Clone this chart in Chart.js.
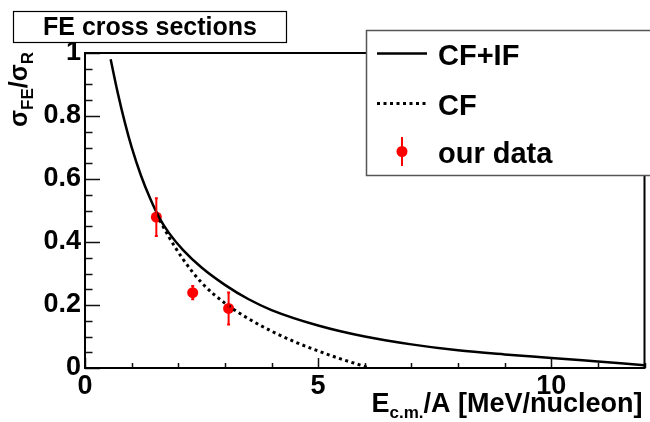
<!DOCTYPE html>
<html>
<head>
<meta charset="utf-8">
<script src="https://cdn.jsdelivr.net/npm/chart.js@4"></script>
<style>
  html, body { margin: 0; padding: 0; background: #fff; }
</style>
</head>
<body>
<canvas id="chart1" width="650" height="422"></canvas>
<script>
// values
var cfifX = [0.55, 0.7, 0.85, 1.0, 1.2, 1.4, 1.6, 1.8, 2.1, 2.5, 3.0, 3.5, 4.0, 5.0, 6.0, 7.0, 8.0, 9.0, 10, 11, 12];
var cfifY = [0.98, 0.875, 0.782, 0.701, 0.611, 0.537, 0.475, 0.429, 0.375, 0.319, 0.264, 0.219, 0.184, 0.135, 0.100, 0.075, 0.056, 0.043, 0.032, 0.0205, 0.009];
var cfX = [1.6, 1.8, 2.1, 2.5, 3.0, 3.5, 4.0, 4.5, 5.0, 5.5, 6.0, 6.1];
var cfY = [0.47, 0.416, 0.346, 0.271, 0.206, 0.157, 0.117, 0.083, 0.054, 0.028, 0.005, 0.0];
var dataX = [1.53, 2.31, 3.08];
var dataY = [0.479, 0.239, 0.189];
var dataErr = [0.06, 0.021, 0.051];
var xTicks = [0, 5, 10];
var yTicks = [0, 0.2, 0.4, 0.6, 0.8, 1];
var seriesLabels = ["CF+IF", "CF", "our data"];
var chartTitle = "FE cross sections";

var FONT = "'Liberation Sans', Arial, Helvetica, sans-serif";

function pts(xs, ys) {
  return xs.map(function (x, i) {
    return { x: x, y: ys[i] };
  });
}

// draw text with subscripts, parts = [[text, isSub], ...]
function richWidth(ctx, parts, size, subSize) {
  var w = 0;
  parts.forEach(function (p) {
    ctx.font = "bold " + (p[1] ? subSize : size) + "px " + FONT;
    w += ctx.measureText(p[0]).width;
  });
  return w;
}
function drawRich(ctx, parts, x, y, size, subSize, drop) {
  parts.forEach(function (p) {
    ctx.font = "bold " + (p[1] ? subSize : size) + "px " + FONT;
    ctx.fillText(p[0], x, p[1] ? y + drop : y);
    x += ctx.measureText(p[0]).width;
  });
}

var framePlugin = {
  id: "frame",
  afterDraw: function (chart) {
    var ctx = chart.ctx;
    var a = chart.chartArea;
    var xs = chart.scales.x;
    var ys = chart.scales.y;
    ctx.save();
    // inner ticks, ROOT style
    ctx.strokeStyle = "#111";
    ctx.lineWidth = 1.5;
    ctx.beginPath();
    for (var v = 0; v <= 1.0001; v += 0.05) {
      var py = Math.round(ys.getPixelForValue(v)) + 0.5;
      var major = Math.abs(v * 5 - Math.round(v * 5)) < 1e-6;
      ctx.moveTo(a.left, py);
      ctx.lineTo(a.left + (major ? 15 : 7.5), py);
    }
    for (var u = 0; u <= 12; u += 1) {
      var px = Math.round(xs.getPixelForValue(u)) + 0.5;
      ctx.moveTo(px, a.bottom);
      ctx.lineTo(px, a.bottom - (u % 5 === 0 ? 10 : 5));
    }
    ctx.stroke();
    // frame
    ctx.strokeStyle = "#000";
    ctx.lineWidth = 2;
    ctx.strokeRect(a.left, a.top, a.right - a.left, a.bottom - a.top);

    // error bars
    ctx.strokeStyle = "#ff0000";
    ctx.lineWidth = 2;
    ctx.beginPath();
    dataX.forEach(function (x, i) {
      var px = xs.getPixelForValue(x);
      var top = ys.getPixelForValue(dataY[i] + dataErr[i]);
      var bot = ys.getPixelForValue(dataY[i] - dataErr[i]);
      ctx.moveTo(px, top);
      ctx.lineTo(px, bot);
      ctx.moveTo(px - 1.5, top);
      ctx.lineTo(px + 1.5, top);
      ctx.moveTo(px - 1.5, bot);
      ctx.lineTo(px + 1.5, bot);
    });
    ctx.stroke();

    // axis titles
    ctx.fillStyle = "#000";
    ctx.textBaseline = "alphabetic";
    ctx.textAlign = "left";
    var xt = [["E", false], ["c.m.", true], ["/A [MeV/nucleon]", false]];
    var w = richWidth(ctx, xt, 27, 17);
    drawRich(ctx, xt, a.right - 2 - w, 412, 27, 17, 6);

    var yt = [["\u03c3", false], ["FE", true], ["/\u03c3", false], ["R", true]];
    ctx.save();
    ctx.translate(27, 127);
    ctx.rotate(-Math.PI / 2);
    drawRich(ctx, yt, 0, 0, 25, 17, 6);
    ctx.restore();

    // title box
    ctx.fillStyle = "#fff";
    ctx.fillRect(13, 11, 273, 31);
    ctx.strokeStyle = "#000";
    ctx.lineWidth = 1.2;
    ctx.strokeRect(13.5, 11.5, 273, 31);
    ctx.fillStyle = "#000";
    ctx.font = "bold 25px " + FONT;
    ctx.textAlign = "center";
    ctx.fillText(chartTitle, 150, 35);

    // legend box
    ctx.fillStyle = "#fff";
    ctx.fillRect(366, 30, 300, 145);
    ctx.strokeStyle = "#555";
    ctx.lineWidth = 1.5;
    ctx.strokeRect(366.5, 30.5, 300, 145);
    var ds = chart.data.datasets;
    var rowY = [53.5, 103.5, 151.5];
    ctx.textAlign = "left";
    ctx.font = "bold 29px " + FONT;
    ds.forEach(function (d, i) {
      if (d.showLine) {
        ctx.strokeStyle = d.borderColor;
        ctx.lineWidth = d.borderWidth;
        ctx.setLineDash(d.borderDash || []);
        ctx.beginPath();
        ctx.moveTo(377, rowY[i]);
        ctx.lineTo(427, rowY[i]);
        ctx.stroke();
        ctx.setLineDash([]);
      } else {
        ctx.strokeStyle = d.borderColor;
        ctx.lineWidth = 2;
        ctx.beginPath();
        ctx.moveTo(402, rowY[i] - 14.5);
        ctx.lineTo(402, rowY[i] + 14.5);
        ctx.stroke();
        ctx.fillStyle = d.backgroundColor;
        ctx.beginPath();
        ctx.arc(402, rowY[i], d.pointRadius, 0, Math.PI * 2);
        ctx.fill();
      }
      ctx.fillStyle = "#000";
      ctx.fillText(d.label, 438, rowY[i] + 11);
    });
    ctx.restore();
  },
};

var tickFont = { family: FONT, size: 27, weight: "bold" };

new Chart(document.getElementById("chart1"), {
  type: "scatter",
  data: {
    datasets: [
      {
        label: seriesLabels[0],
        data: pts(cfifX, cfifY),
        showLine: true,
        borderColor: "#000",
        borderWidth: 2.5,
        pointRadius: 0,
        cubicInterpolationMode: "monotone",
        fill: false,
      },
      {
        label: seriesLabels[1],
        data: pts(cfX, cfY),
        showLine: true,
        borderColor: "#000",
        borderWidth: 3,
        borderDash: [3, 3.5],
        pointRadius: 0,
        cubicInterpolationMode: "monotone",
        fill: false,
      },
      {
        label: seriesLabels[2],
        data: pts(dataX, dataY),
        showLine: false,
        pointRadius: 5.5,
        pointBorderWidth: 0,
        backgroundColor: "#ff0000",
        borderColor: "#ff0000",
      },
    ],
  },
  options: {
    responsive: false,
    animation: false,
    devicePixelRatio: 1,
    layout: { padding: { top: 53, right: 4, left: 0, bottom: 0 } },
    plugins: {
      legend: { display: false },
      tooltip: { enabled: false },
    },
    scales: {
      x: {
        type: "linear",
        min: 0,
        max: 12,
        afterBuildTicks: function (s) {
          s.ticks = xTicks.map(function (v) { return { value: v }; });
        },
        afterFit: function (s) { s.height = 54; },
        grid: { display: false, drawTicks: false },
        border: { display: false },
        ticks: {
          font: tickFont,
          color: "#000",
          padding: 2,
          maxRotation: 0,
          autoSkip: false,
          callback: function (v) { return String(v); },
        },
      },
      y: {
        type: "linear",
        min: 0,
        max: 1,
        afterBuildTicks: function (s) {
          s.ticks = yTicks.map(function (v) { return { value: v }; });
        },
        afterFit: function (s) { s.width = 85; },
        grid: { display: false, drawTicks: false },
        border: { display: false },
        ticks: {
          font: tickFont,
          color: "#000",
          padding: 4,
          autoSkip: false,
          callback: function (v) { return String(v); },
        },
      },
    },
  },
  plugins: [framePlugin],
});
</script>
</body>
</html>
